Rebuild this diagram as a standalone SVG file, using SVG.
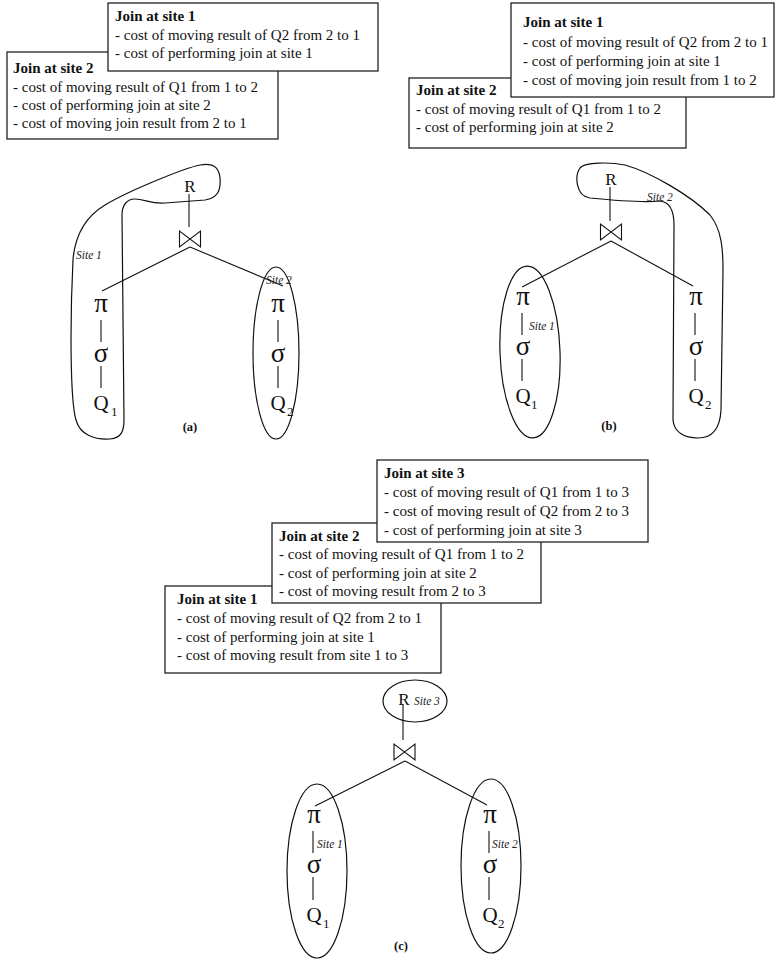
<svg xmlns="http://www.w3.org/2000/svg" width="777" height="962" viewBox="0 0 777 962">
<style>
.box{fill:#fff;stroke:#222;stroke-width:1.3}
.t{font-family:"Liberation Serif","Times New Roman",serif;font-size:15px;fill:#111}
.tb{font-family:"Liberation Serif","Times New Roman",serif;font-size:15px;font-weight:bold;fill:#111}
.sym{font-family:"Liberation Serif","Times New Roman",serif;font-size:27px;fill:#111;text-anchor:middle}
.q{font-family:"Liberation Serif","Times New Roman",serif;font-size:21px;fill:#111;text-anchor:middle}
.r{font-family:"Liberation Serif","Times New Roman",serif;font-size:17px;fill:#111;text-anchor:middle}
.sub{font-family:"Liberation Serif","Times New Roman",serif;font-size:13px;fill:#111}
.site{font-family:"Liberation Serif","Times New Roman",serif;font-size:11.5px;font-style:italic;fill:#222}
.cap{font-family:"Liberation Serif","Times New Roman",serif;font-size:12.5px;font-weight:bold;fill:#111;text-anchor:middle}
.ln{stroke:#111;stroke-width:1.1;fill:none}
.reg{stroke:#111;stroke-width:1.2;fill:none}
</style>
<defs>
<path id="bow" d="M-10.5,-8 L-10.5,8 L10.5,-8 L10.5,8 Z" fill="none" stroke="#111" stroke-width="1.1"/>
</defs>

<!-- ===== (a) ===== -->
<g id="a-box-site2">
<rect class="box" x="7" y="52" width="271" height="87"/>
<text class="tb" x="13" y="73">Join at site 2</text>
<text class="t" x="13" y="92">- cost of moving result of Q1 from 1 to 2</text>
<text class="t" x="13" y="110">- cost of performing join at site 2</text>
<text class="t" x="13" y="128">- cost of moving join result from 2 to 1</text>
</g>
<g id="a-box-site1">
<rect class="box" x="108" y="3" width="270" height="68"/>
<text class="tb" x="115" y="21">Join at site 1</text>
<text class="t" x="115" y="40">- cost of moving result of Q2 from 2 to 1</text>
<text class="t" x="115" y="58">- cost of performing join at site 1</text>
</g>
<g id="a-region-site1">
<path class="reg" d="M73,260 C70,320 70,400 76,420 C80,435 95,440 110,439 C122,438 124,430 124,420 L122,215 C122,205 127,199 135,199 C145,199 150,204 165,203 L205,200 C218,198 221,190 220,178 C219,166 212,163 200,165 C185,168 130,190 105,205 C85,217 75,235 73,260 Z"/>
<text class="site" x="76" y="259">Site 1</text>
</g>
<g id="a-region-site2">
<ellipse class="reg" cx="276" cy="353" rx="23" ry="86"/>
<text class="site" x="266" y="284">Site 2</text>
</g>
<g id="a-connectors">
<line class="ln" x1="189" y1="194" x2="189" y2="227"/>
<line class="ln" x1="190" y1="247" x2="102" y2="291"/>
<line class="ln" x1="190" y1="247" x2="283" y2="286"/>
<line class="ln" x1="101" y1="320" x2="101" y2="342"/>
<line class="ln" x1="101" y1="366" x2="101" y2="388"/>
<line class="ln" x1="278" y1="320" x2="278" y2="342"/>
<line class="ln" x1="278" y1="366" x2="278" y2="388"/>
</g>
<g id="a-R"><text class="r" x="190" y="192">R</text></g>
<g id="a-join"><use href="#bow" x="190" y="239"/></g>
<g id="a-pi1"><text class="sym" x="101" y="312">π</text></g>
<g id="a-sigma1"><text class="sym" x="101" y="362">σ</text></g>
<g id="a-Q1"><text class="q" x="101" y="410">Q</text><text class="sub" x="111" y="416">1</text></g>
<g id="a-pi2"><text class="sym" x="278" y="312">π</text></g>
<g id="a-sigma2"><text class="sym" x="278" y="362">σ</text></g>
<g id="a-Q2"><text class="q" x="278" y="410">Q</text><text class="sub" x="287" y="416">2</text></g>
<text class="cap" x="190" y="431">(a)</text>

<!-- ===== (b) ===== -->
<g id="b-box-site2">
<rect class="box" x="409" y="78" width="277" height="70"/>
<text class="tb" x="416" y="95">Join at site 2</text>
<text class="t" x="416" y="114">- cost of moving result of Q1 from 1 to 2</text>
<text class="t" x="416" y="132">- cost of performing join at site 2</text>
</g>
<g id="b-box-site1">
<rect class="box" x="511" y="3" width="263" height="94"/>
<text class="tb" x="523" y="27">Join at site 1</text>
<text class="t" x="523" y="47">- cost of moving result of Q2 from 2 to 1</text>
<text class="t" x="523" y="66">- cost of performing join at site 1</text>
<text class="t" x="523" y="85">- cost of moving join result from 1 to 2</text>
</g>
<g id="b-region-site1">
<ellipse class="reg" cx="530" cy="352" rx="30" ry="86" transform="rotate(-2 530 352)"/>
<text class="site" x="529" y="330">Site 1</text>
</g>
<g id="b-region-site2">
<path class="reg" d="M580,168 C585,162 610,162 625,165 C650,172 690,195 710,215 C722,230 723,250 723,270 L721,410 C720,430 712,438 698,438 C684,438 674,432 673,420 L674,225 C674,210 670,202 660,201 C640,203 610,200 590,198 C575,196 575,175 580,168 Z"/>
<text class="site" x="647" y="201">Site 2</text>
</g>
<g id="b-connectors">
<line class="ln" x1="610" y1="187" x2="610" y2="221"/>
<line class="ln" x1="611" y1="241" x2="522" y2="287"/>
<line class="ln" x1="611" y1="241" x2="693" y2="286"/>
<line class="ln" x1="522" y1="313" x2="522" y2="335"/>
<line class="ln" x1="522" y1="359" x2="522" y2="381"/>
<line class="ln" x1="695" y1="313" x2="695" y2="335"/>
<line class="ln" x1="695" y1="359" x2="695" y2="381"/>
</g>
<g id="b-R"><text class="r" x="611" y="185">R</text></g>
<g id="b-join"><use href="#bow" x="611" y="232"/></g>
<g id="b-pi1"><text class="sym" x="523" y="305">π</text></g>
<g id="b-sigma1"><text class="sym" x="523" y="355">σ</text></g>
<g id="b-Q1"><text class="q" x="523" y="403">Q</text><text class="sub" x="531" y="409">1</text></g>
<g id="b-pi2"><text class="sym" x="696" y="305">π</text></g>
<g id="b-sigma2"><text class="sym" x="696" y="355">σ</text></g>
<g id="b-Q2"><text class="q" x="696" y="403">Q</text><text class="sub" x="705" y="409">2</text></g>
<text class="cap" x="609" y="430">(b)</text>

<!-- ===== (c) ===== -->
<g id="c-box-site1">
<rect class="box" x="165" y="586" width="276" height="87"/>
<text class="tb" x="177" y="604">Join at site 1</text>
<text class="t" x="177" y="623">- cost of moving result of Q2 from 2 to 1</text>
<text class="t" x="177" y="642">- cost of performing join at site 1</text>
<text class="t" x="177" y="660">- cost of moving result from site 1 to 3</text>
</g>
<g id="c-box-site2">
<rect class="box" x="272" y="523" width="269" height="80"/>
<text class="tb" x="279" y="541">Join at site 2</text>
<text class="t" x="279" y="559">- cost of moving result of Q1 from 1 to 2</text>
<text class="t" x="279" y="578">- cost of performing join at site 2</text>
<text class="t" x="279" y="596">- cost of moving result from 2 to 3</text>
</g>
<g id="c-box-site3">
<rect class="box" x="377" y="460" width="271" height="82"/>
<text class="tb" x="384" y="478">Join at site 3</text>
<text class="t" x="384" y="497">- cost of moving result of Q1 from 1 to 3</text>
<text class="t" x="384" y="516">- cost of moving result of Q2 from 2 to 3</text>
<text class="t" x="384" y="535">- cost of performing join at site 3</text>
</g>
<g id="c-region-site3">
<ellipse class="reg" cx="415" cy="701" rx="32" ry="21"/>
<text class="site" x="414" y="705">Site 3</text>
</g>
<g id="c-region-site1">
<ellipse class="reg" cx="317" cy="871" rx="30" ry="87"/>
<text class="site" x="317" y="848">Site 1</text>
</g>
<g id="c-region-site2">
<ellipse class="reg" cx="491" cy="866" rx="30" ry="87"/>
<text class="site" x="492" y="848">Site 2</text>
</g>
<g id="c-connectors">
<line class="ln" x1="403" y1="704" x2="403" y2="740"/>
<line class="ln" x1="405" y1="761" x2="315" y2="806"/>
<line class="ln" x1="405" y1="761" x2="487" y2="805"/>
<line class="ln" x1="313" y1="831" x2="313" y2="853"/>
<line class="ln" x1="313" y1="877" x2="313" y2="900"/>
<line class="ln" x1="489" y1="831" x2="489" y2="853"/>
<line class="ln" x1="489" y1="877" x2="489" y2="900"/>
</g>
<g id="c-R"><text class="r" x="404" y="705">R</text></g>
<g id="c-join"><use href="#bow" x="404.5" y="752"/></g>
<g id="c-pi1"><text class="sym" x="314" y="823">π</text></g>
<g id="c-sigma1"><text class="sym" x="314" y="873">σ</text></g>
<g id="c-Q1"><text class="q" x="314" y="922">Q</text><text class="sub" x="323" y="928">1</text></g>
<g id="c-pi2"><text class="sym" x="490" y="823">π</text></g>
<g id="c-sigma2"><text class="sym" x="490" y="873">σ</text></g>
<g id="c-Q2"><text class="q" x="490" y="922">Q</text><text class="sub" x="498" y="928">2</text></g>
<text class="cap" x="401" y="950">(c)</text>
</svg>
